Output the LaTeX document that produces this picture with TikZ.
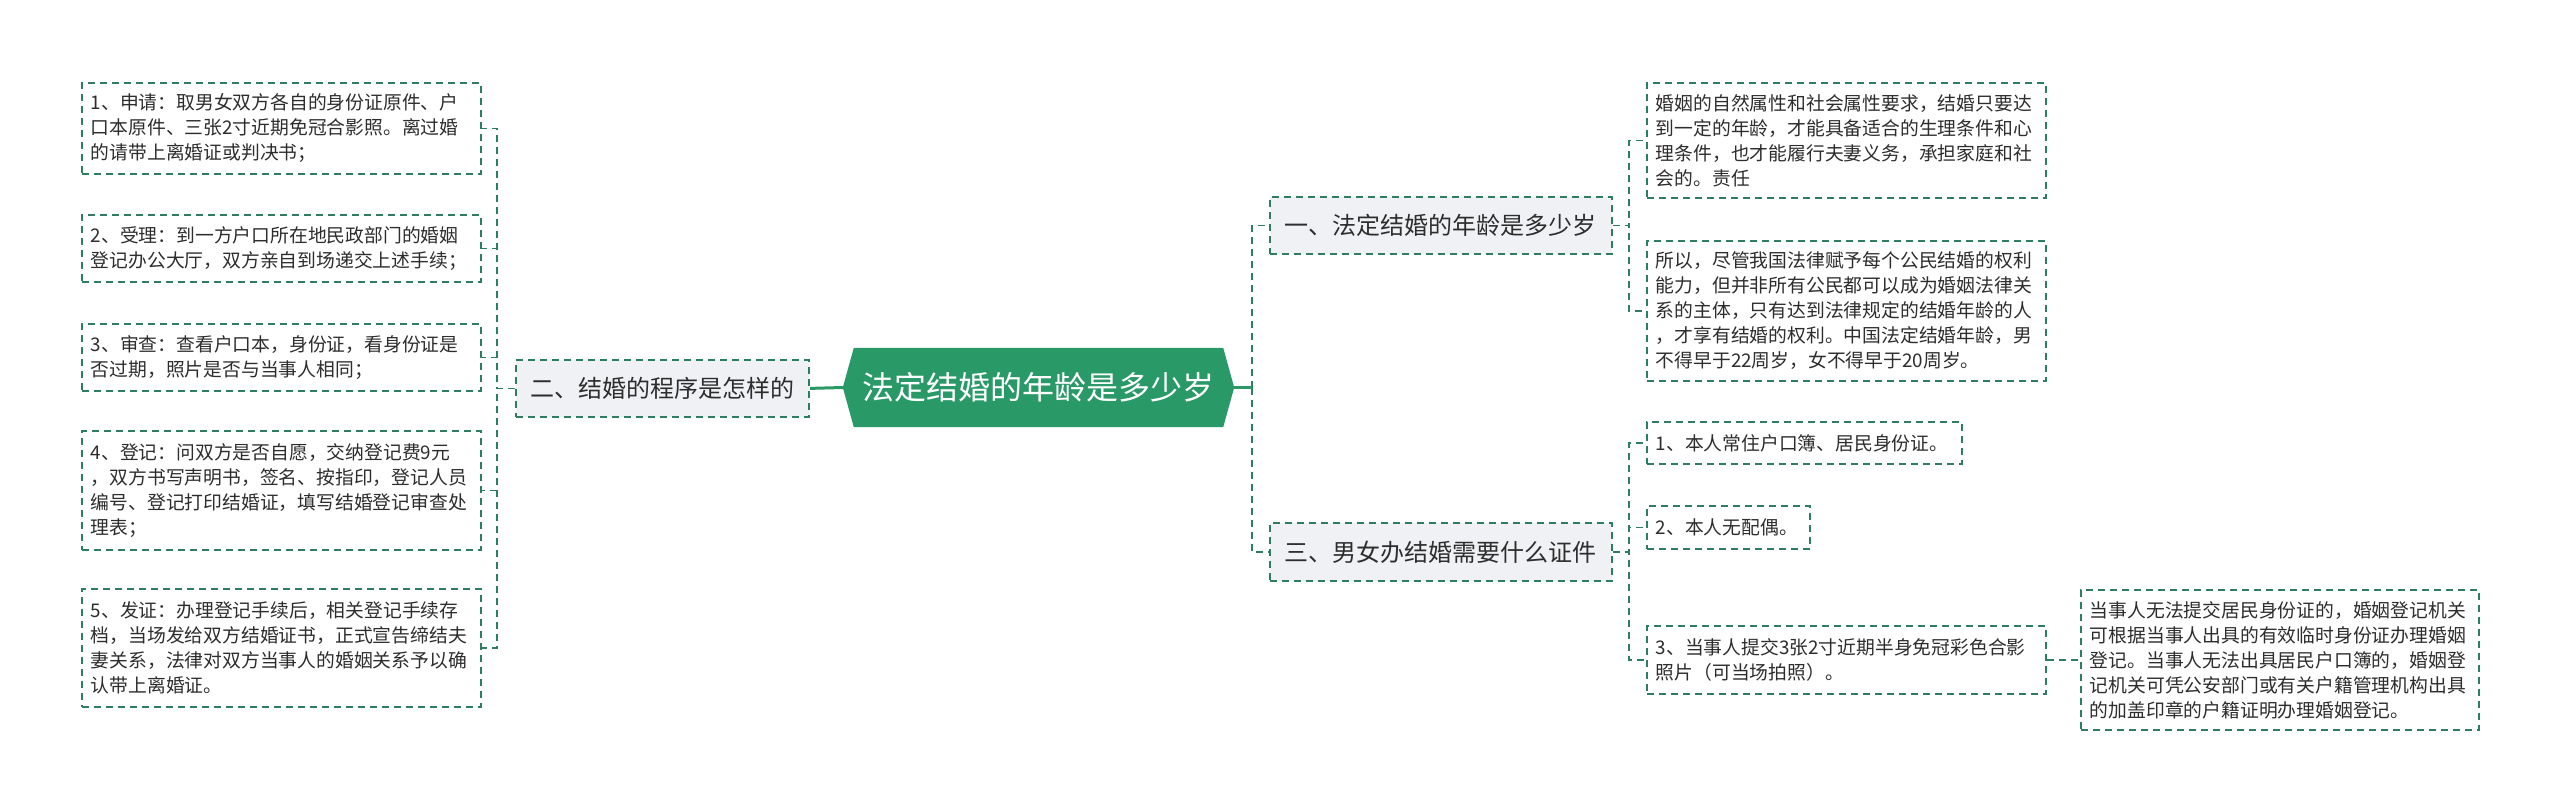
\documentclass[tikz,border=0pt]{standalone}
\usepackage{fontspec}
\setmainfont{Noto Sans CJK SC}
\usetikzlibrary{backgrounds}
\definecolor{lineg}{RGB}{46,125,95}
\definecolor{hexg}{RGB}{41,153,104}
\definecolor{lvlfill}{RGB}{239,241,244}
\definecolor{txt}{RGB}{45,45,45}
\tikzset{
  conn/.style={draw=lineg, line width=1.8pt, dash pattern=on 7pt off 5pt},
  solidconn/.style={draw=hexg, line width=3pt},
  leaf/.style={draw=lineg, line width=1.8pt, dash pattern=on 7pt off 5pt, fill=white,
    anchor=north west, inner xsep=9pt, inner ysep=0pt, align=left, text=txt,
    font=\fontsize{18.8}{25}\selectfont},
  lvl/.style={draw=lineg, line width=1.8pt, dash pattern=on 7pt off 5pt, fill=lvlfill,
    anchor=north west, inner sep=0pt, align=center, text=txt,
    font=\fontsize{24}{28}\selectfont},
}
\begin{document}
\begin{tikzpicture}[x=1pt,y=-1pt]
\useasboundingbox (0,0) rectangle (2560,811);
% bus coordinates
\coordinate (busL) at (497,0);
\coordinate (busM) at (1252,0);
\coordinate (busR) at (1629,0);
% root
\node[minimum width=391pt, minimum height=79pt, inner sep=0pt, text=white,
  font=\fontsize{32}{36}\selectfont] (root) at (1038.5,387.5) {法定结婚的年龄是多少岁};
\begin{scope}[on background layer]
\fill[white] (0,0) rectangle (2560,811);
\fill[hexg] (root.west) -- ([xshift=11pt]root.north west) -- ([xshift=-11pt]root.north east)
  -- (root.east) -- ([xshift=-11pt]root.south east) -- ([xshift=11pt]root.south west) -- cycle;
\end{scope}
% level 1
\node[lvl, minimum width=293pt, minimum height=57pt] (two) at (515,359) {二、结婚的程序是怎样的};
\node[lvl, minimum width=342pt, minimum height=57pt] (one) at (1269,196) {一、法定结婚的年龄是多少岁};
\node[lvl, minimum width=342pt, minimum height=58pt] (three) at (1269,522) {三、男女办结婚需要什么证件};
% left leaves
\node[leaf, text width=381pt, minimum height=91pt] (L1) at (81,82)
 {1、申请：取男女双方各自的身份证原件、户\\口本原件、三张2寸近期免冠合影照。离过婚\\的请带上离婚证或判决书；};
\node[leaf, text width=381pt, minimum height=67pt] (L2) at (81,214)
 {2、受理：到一方户口所在地民政部门的婚姻\\登记办公大厅，双方亲自到场递交上述手续；};
\node[leaf, text width=381pt, minimum height=67pt] (L3) at (81,323)
 {3、审查：查看户口本，身份证，看身份证是\\否过期，照片是否与当事人相同；};
\node[leaf, text width=381pt, minimum height=119pt] (L4) at (81,430)
 {4、登记：问双方是否自愿，交纳登记费9元\\，双方书写声明书，签名、按指印，登记人员\\编号、登记打印结婚证，填写结婚登记审查处\\理表；};
\node[leaf, text width=381pt, minimum height=118pt] (L5) at (81,588)
 {5、发证：办理登记手续后，相关登记手续存\\档，当场发给双方结婚证书，正式宣告缔结夫\\妻关系，法律对双方当事人的婚姻关系予以确\\认带上离婚证。};
% right leaves
\node[leaf, text width=381pt, minimum height=115pt] (R1) at (1646,82)
 {婚姻的自然属性和社会属性要求，结婚只要达\\到一定的年龄，才能具备适合的生理条件和心\\理条件，也才能履行夫妻义务，承担家庭和社\\会的。责任};
\node[leaf, text width=381pt, minimum height=140pt] (R2) at (1646,240)
 {所以，尽管我国法律赋予每个公民结婚的权利\\能力，但并非所有公民都可以成为婚姻法律关\\系的主体，只有达到法律规定的结婚年龄的人\\，才享有结婚的权利。中国法定结婚年龄，男\\不得早于22周岁，女不得早于20周岁。};
\node[leaf, text width=297pt, minimum height=42pt] (R3) at (1646,421)
 {1、本人常住户口簿、居民身份证。};
\node[leaf, text width=145pt, minimum height=43pt] (R4) at (1646,505)
 {2、本人无配偶。};
\node[leaf, text width=381pt, minimum height=68pt] (R5) at (1646,625)
 {3、当事人提交3张2寸近期半身免冠彩色合影\\照片（可当场拍照）。};
\node[leaf, text width=380pt, minimum height=140pt] (R6) at (2080,589)
 {当事人无法提交居民身份证的，婚姻登记机关\\可根据当事人出具的有效临时身份证办理婚姻\\登记。当事人无法出具居民户口簿的，婚姻登\\记机关可凭公安部门或有关户籍管理机构出具\\的加盖印章的户籍证明办理婚姻登记。};
% connectors
\coordinate (mj) at (root.east -| busM);
\draw[solidconn] (two.east) -- (root.west);
\draw[conn] (mj) |- (one.west);
\draw[conn] (mj) |- (three.west);
\draw[solidconn] (root.east) -- (mj);
\foreach \n in {L1,L2,L3,L4,L5}
  \draw[conn] (two.west) -- (two.west -| busL) |- (\n.east);
\foreach \n in {R1,R2}
  \draw[conn] (one.east) -- (one.east -| busR) |- (\n.west);
\foreach \n in {R3,R4,R5}
  \draw[conn] (three.east) -- (three.east -| busR) |- (\n.west);
\draw[conn] (R5.east) -- (R6.west);
\end{tikzpicture}
\end{document}
